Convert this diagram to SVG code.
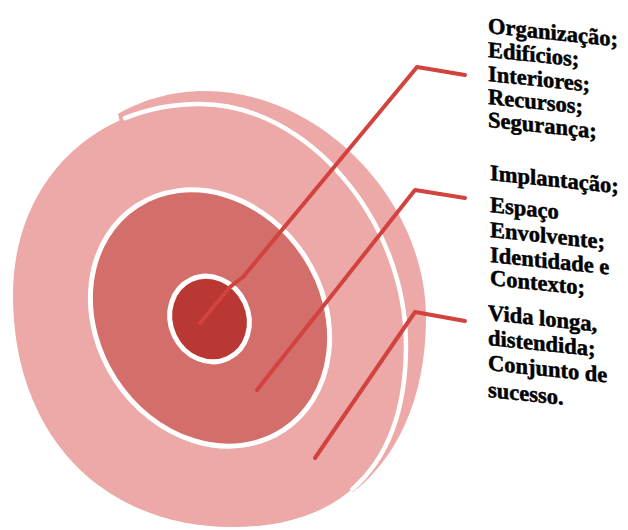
<svg xmlns="http://www.w3.org/2000/svg" width="628" height="530" viewBox="0 0 628 530">
<style>
.pink{fill:#ECA9A8}
.mid{fill:#D46E6A;stroke:#FFFFFF;stroke-width:5}
.core{fill:#B93834;stroke:#FFFFFF;stroke-width:5}
.rim{fill:none;stroke:#FFFFFF;stroke-width:4.5;stroke-linecap:round}
.lead{fill:none;stroke:#D2423F;stroke-width:4;stroke-linejoin:round;stroke-linecap:round}
.lbl{font-family:"Liberation Serif","Times New Roman",serif;font-weight:bold;font-size:22.5px;fill:#000000;stroke:#000000;stroke-width:0.5}
</style>
<g id="outer-ring">
<path class="pink" d="M118,114 C140,101 170,91 205,91 C320,91 426,200 426,318 C426,400 395,460 353,492 L250,420 L150,250 Z"/>
<path class="pink" d="M200,104 C307,104 406,220 406,345 C406,463 345,527 233,527 C101,527 13,434 13,295 C13,184 91.5,104 200,104 Z"/>
<path class="rim" d="M125,118.2 C147.6,109 172.9,104 200,104 C307,104 406,220 406,345 C406,409.9 387.6,458.4 352.4,489.1"/>
</g>
<g id="middle-ring">
<ellipse class="mid" cx="210" cy="318" rx="113" ry="134" transform="rotate(-33 210 318)"/>
</g>
<g id="inner-core">
<ellipse class="core" cx="209.5" cy="319" rx="39" ry="43.5" transform="rotate(-25 209.5 319)"/>
</g>
<g id="connectors">
<polyline class="lead" points="200,323 230,287 243,277 417,67 465,75"/>
<polyline class="lead" points="257,390 415,190 465,198"/>
<polyline class="lead" points="315,458 415,312 465,321"/>
</g>
<g id="label-1" class="lbl" transform="translate(488,0) skewY(6)">
<text x="0" y="33">Organização;</text>
<text x="0" y="57">Edifícios;</text>
<text x="0" y="81">Interiores;</text>
<text x="0" y="104">Recursos;</text>
<text x="0" y="127">Segurança;</text>
</g>
<g id="label-2" class="lbl" transform="translate(490,0) skewY(6)">
<text x="0" y="180">Implantação;</text>
<text x="0" y="212">Espaço</text>
<text x="0" y="237">Envolvente;</text>
<text x="0" y="262">Identidade e</text>
<text x="0" y="285">Contexto;</text>
</g>
<g id="label-3" class="lbl" transform="translate(488,0) skewY(6)">
<text x="0" y="320">Vida longa,</text>
<text x="0" y="345">distendida;</text>
<text x="0" y="370">Conjunto de</text>
<text x="0" y="397">sucesso.</text>
</g>
</svg>
